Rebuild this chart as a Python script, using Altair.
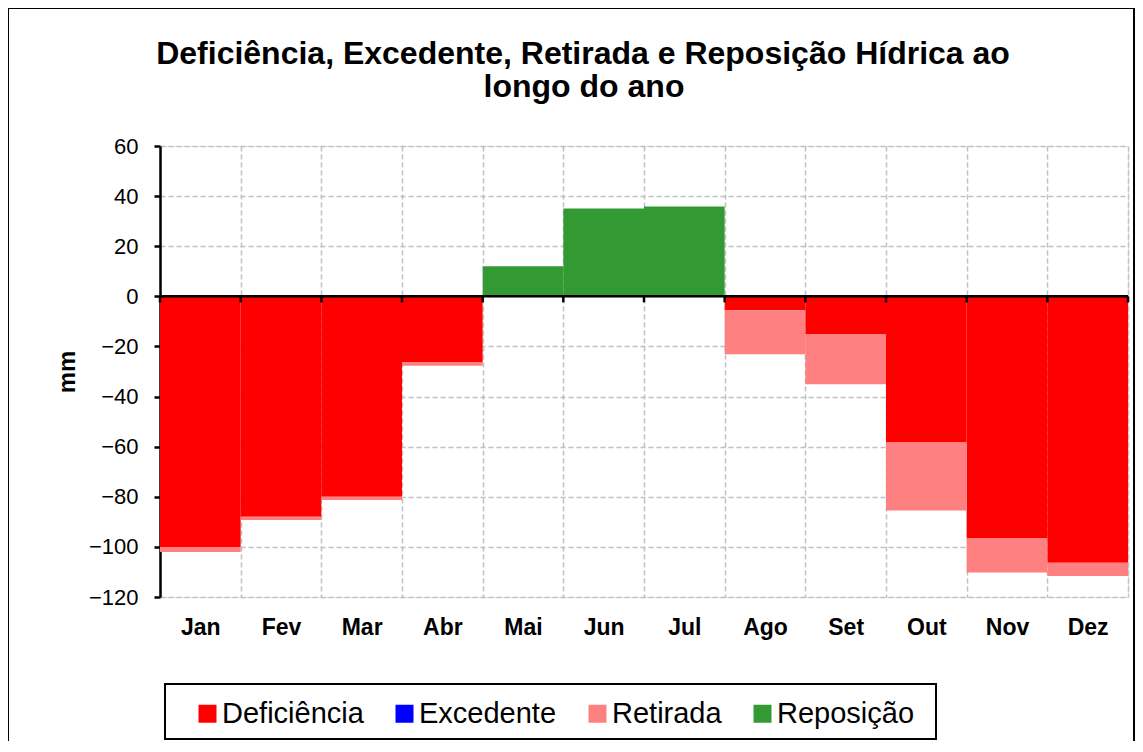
import altair as alt
import pandas as pd

months = ["Jan", "Fev", "Mar", "Abr", "Mai", "Jun", "Jul", "Ago", "Set", "Out", "Nov", "Dez"]
series = ["Deficiência", "Excedente", "Retirada", "Reposição"]
colors = ["#FF0000", "#0000FF", "#FF8080", "#339933"]

deficiencia = [-100.0, -88.0, -80.0, -26.4, 0, 0, 0, -5.6, -15.2, -58.3, -96.7, -106.3]
excedente = [0, 0, 0, 0, 0, 0, 0, 0, 0, 0, 0, 0]
retirada = [-2.0, -1.3, -1.3, -1.3, 0, 0, 0, -17.5, -19.9, -27.2, -13.5, -5.3]
reposicao = [0, 0, 0, 0, 12.0, 35.1, 35.9, 0, 0, 0, 0, 0]

y_ticks = [-120, -100, -80, -60, -40, -20, 0, 20, 40, 60]
title_lines = ["Deficiência, Excedente, Retirada e Reposição Hídrica ao", "longo do ano"]

rows = []
for name, vals in zip(series, [deficiencia, excedente, retirada, reposicao]):
    for m, v in zip(months, vals):
        rows.append({"month": m, "serie": name, "value": v, "ord": series.index(name)})
df = pd.DataFrame(rows)

FONT = "Liberation Sans"
W, H = 968, 451

bars = alt.Chart(df).mark_bar(strokeWidth=0).encode(
    x=alt.X("month:N", sort=months,
            scale=alt.Scale(paddingInner=0, paddingOuter=0),
            axis=alt.Axis(title=None, labelAngle=0, domain=False, ticks=False,
                          grid=True, tickBand="extent", gridColor="#c0c0c0",
                          gridDash=[5, 3], gridWidth=1.5,
                          labelFont=FONT, labelFontSize=23, labelFontWeight="bold",
                          labelColor="black", labelPadding=19)),
    y=alt.Y("value:Q", stack="zero",
            scale=alt.Scale(domain=[-120, 60], nice=False, zero=False),
            axis=alt.Axis(values=y_ticks, title="mm", titleFont=FONT, titleFontSize=24,
                          titleFontWeight="bold", titleColor="black", titlePadding=9,
                          labelFont=FONT, labelFontSize=22, labelColor="black",
                          labelPadding=16, domainColor="black", domainWidth=2.5,
                          tickColor="black", tickWidth=2.5, tickSize=6,
                          grid=True, gridColor="#c0c0c0", gridDash=[5, 3], gridWidth=1.5)),
    color=alt.Color("serie:N", scale=alt.Scale(domain=series, range=colors),
                    legend=alt.Legend(title=None, orient="none", legendX=33, legendY=553,
                                      direction="horizontal", columns=4,
                                      symbolType="square",
                                      symbolSize=324, symbolStrokeWidth=0,
                                      labelFont=FONT, labelFontSize=29, labelColor="black",
                                      labelOffset=0, columnPadding=26, padding=0,
                                      labelLimit=400)),
    order=alt.Order("ord:Q"),
)

one_df = pd.DataFrame({"v": [0]})
zero_line = alt.Chart(one_df).mark_rule(color="black", strokeWidth=2.5).encode(
    y=alt.Y("v:Q")
)

tick_df = pd.DataFrame({"month": months, "y0": [0] * len(months), "y1": [-2.4] * len(months)})
ticks_left = alt.Chart(tick_df).mark_rule(color="black", strokeWidth=2.5).encode(
    x=alt.X("month:N", sort=months, bandPosition=0),
    y="y0:Q", y2="y1:Q",
)
ticks_right = alt.Chart(tick_df.tail(1)).mark_rule(color="black", strokeWidth=2.5).encode(
    x=alt.X("month:N", sort=months, bandPosition=1),
    y="y0:Q", y2="y1:Q",
)

border = alt.Chart(one_df).mark_rect(fill=None, stroke="black", strokeWidth=2).encode(
    x=alt.value(-152), x2=alt.value(W + 6), y=alt.value(-138), y2=alt.value(H + 200)
)
legend_box = alt.Chart(one_df).mark_rect(fill=None, stroke="black", strokeWidth=2).encode(
    x=alt.value(5), x2=alt.value(776), y=alt.value(538), y2=alt.value(593)
)

title1 = alt.Chart(one_df).mark_text(
    font=FONT, fontSize=32, fontWeight="bold", color="black", align="center",
    baseline="alphabetic", text=title_lines[0],
).encode(x=alt.value(423), y=alt.value(-82.5))
title2 = alt.Chart(one_df).mark_text(
    font=FONT, fontSize=32, fontWeight="bold", color="black", align="center",
    baseline="alphabetic", text=title_lines[1],
).encode(x=alt.value(424), y=alt.value(-49))

chart = alt.layer(bars, zero_line, ticks_left, ticks_right, border, legend_box,
                  title1, title2).properties(
    width=W, height=H,
    padding={"left": 152, "top": 138, "right": 7, "bottom": 144},
    autosize=alt.AutoSizeParams(type="none"),
).configure_view(stroke="#808080", strokeWidth=2).configure(background="white")

chart.save("out.html", embed_options={"renderer": "svg", "actions": False})
